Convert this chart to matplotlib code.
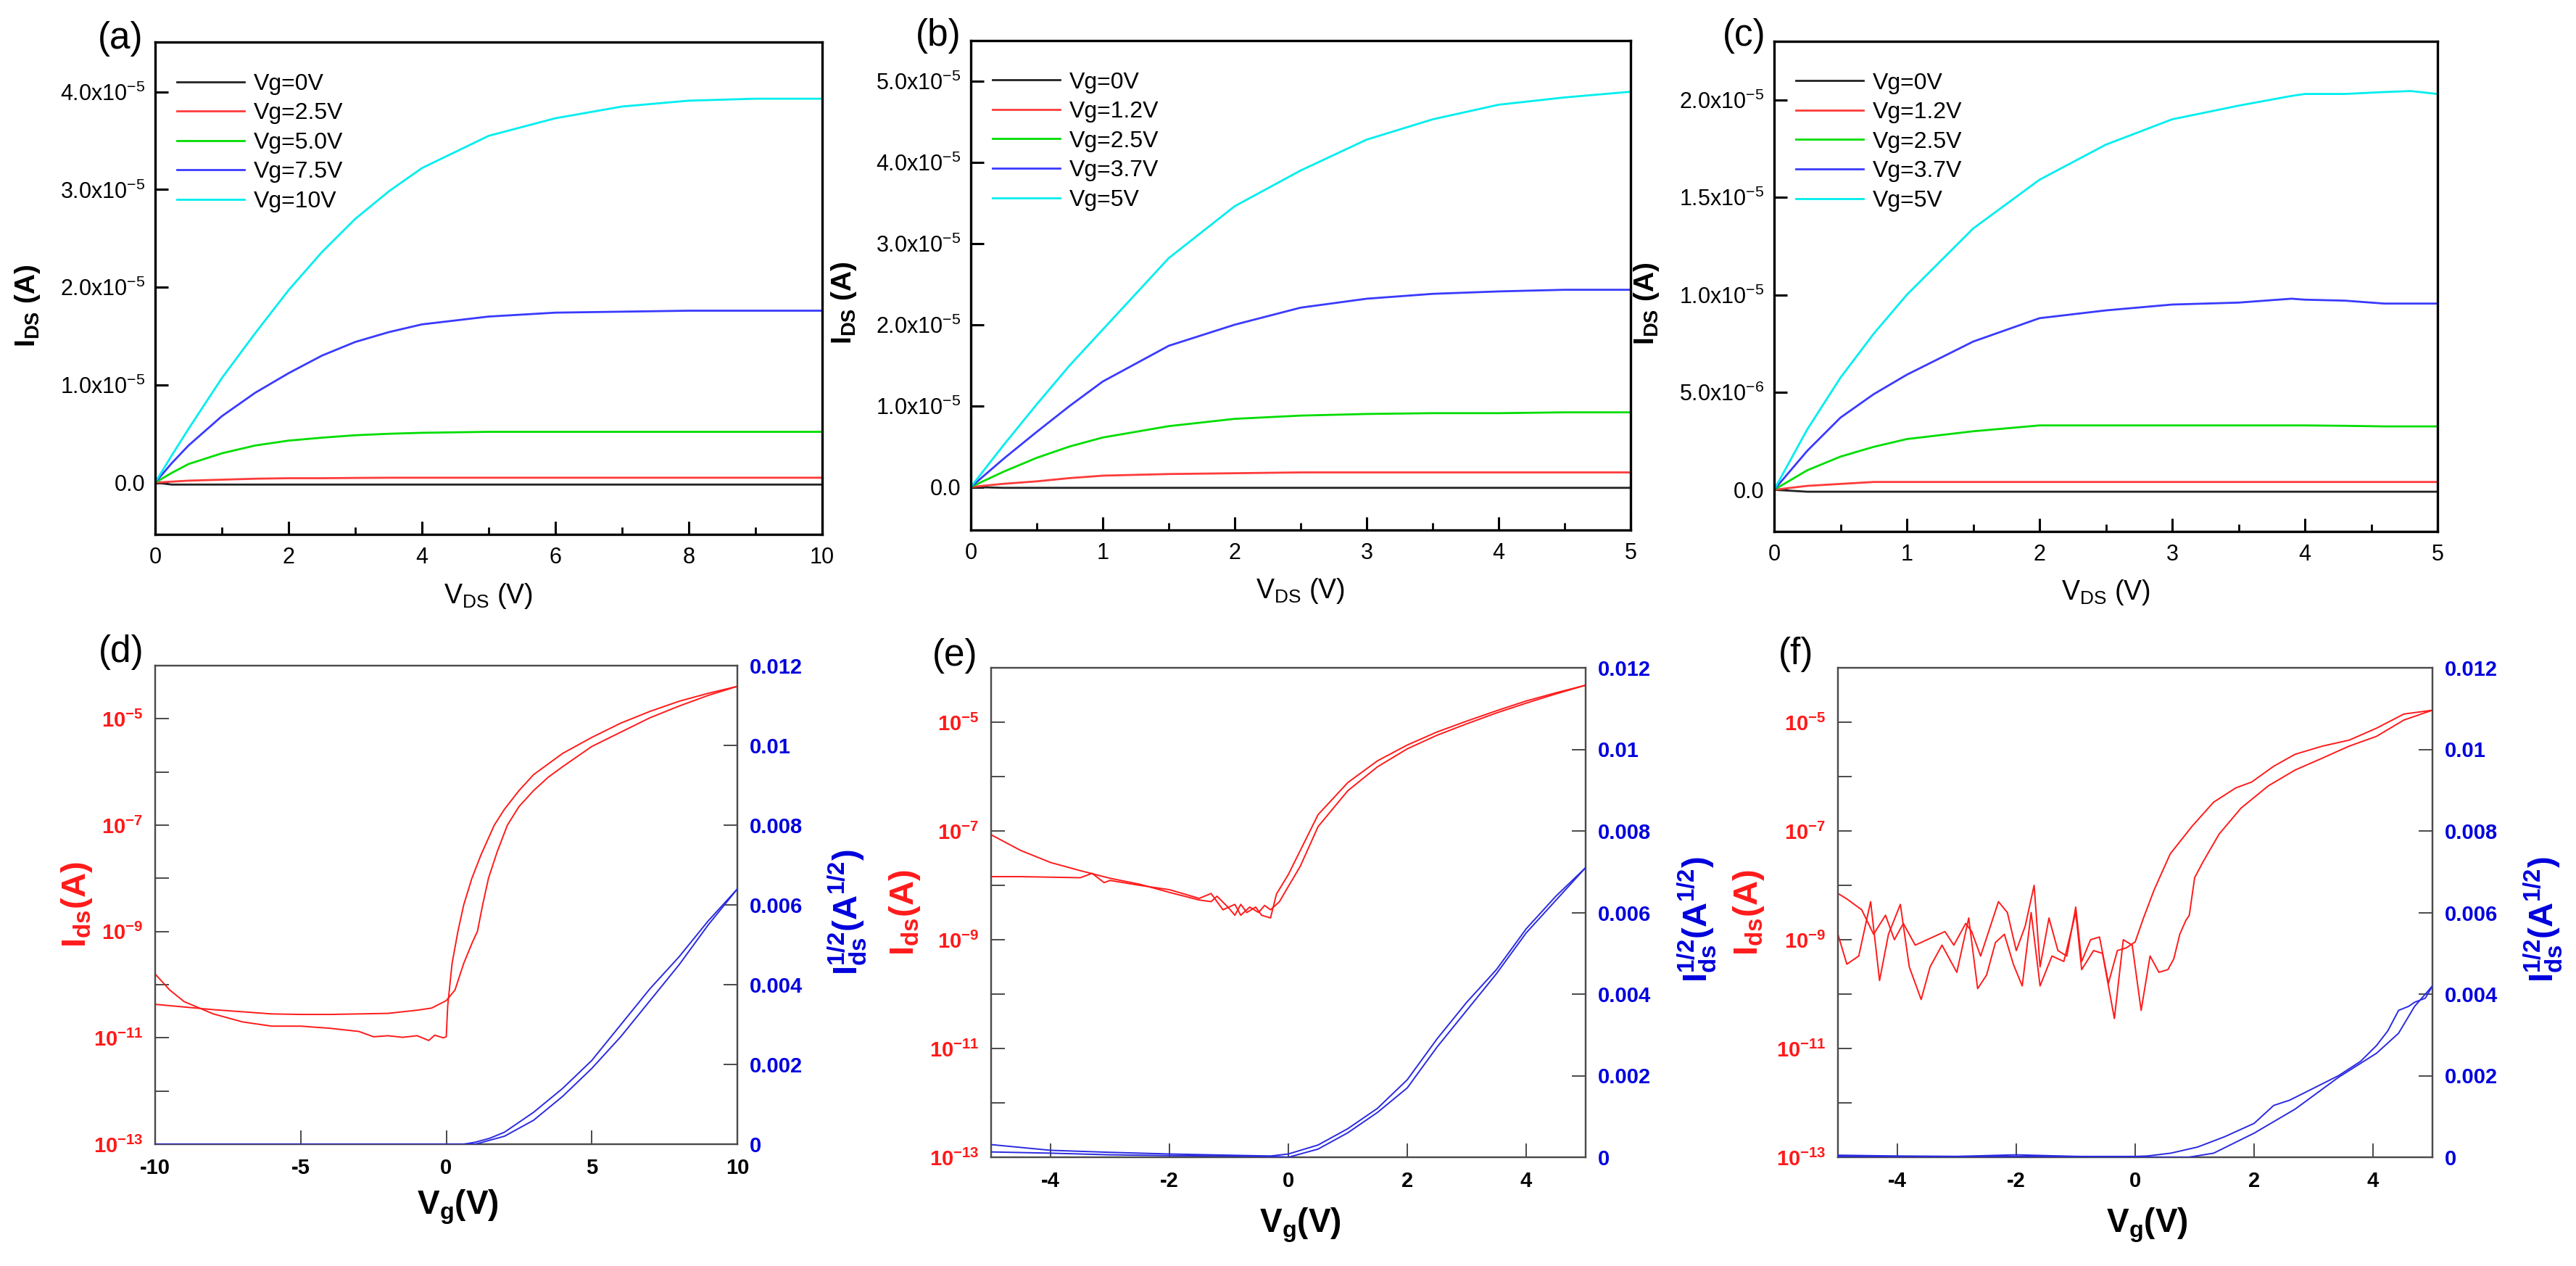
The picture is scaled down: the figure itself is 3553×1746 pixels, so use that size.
import numpy as np
import matplotlib
matplotlib.use('Agg')
import matplotlib.pyplot as plt
from matplotlib.ticker import AutoMinorLocator, NullLocator

plt.rcParams['font.family'] = ['Liberation Sans', 'DejaVu Sans']
plt.rcParams['mathtext.fontset'] = 'custom'
plt.rcParams['mathtext.rm'] = 'Liberation Sans'
plt.rcParams['mathtext.it'] = 'Liberation Sans:italic'
plt.rcParams['mathtext.bf'] = 'Liberation Sans:bold'

# ---------------- output curves, I_DS in units of 1e-5 A ----------------
vds_a = [0, 0.25, 0.5, 1, 1.5, 2, 2.5, 3, 3.5, 4, 5, 6, 7, 8, 9, 10]
ids_a = {
    'Vg=0V':   [0, -0.02, -0.02, -0.02, -0.02, -0.02, -0.02, -0.02, -0.02, -0.02, -0.02, -0.02, -0.02, -0.02, -0.02, -0.02],
    'Vg=2.5V': [0, 0.01, 0.02, 0.03, 0.04, 0.045, 0.045, 0.048, 0.05, 0.05, 0.05, 0.05, 0.05, 0.05, 0.05, 0.05],
    'Vg=5.0V': [0, 0.10, 0.19, 0.30, 0.38, 0.43, 0.46, 0.485, 0.50, 0.51, 0.52, 0.52, 0.52, 0.52, 0.52, 0.52],
    'Vg=7.5V': [0, 0.20, 0.38, 0.68, 0.92, 1.12, 1.30, 1.44, 1.54, 1.62, 1.70, 1.74, 1.75, 1.76, 1.76, 1.76],
    'Vg=10V':  [0, 0.28, 0.55, 1.07, 1.53, 1.97, 2.36, 2.70, 2.98, 3.22, 3.55, 3.73, 3.85, 3.91, 3.93, 3.93],
}

vds_b = [0, 0.25, 0.5, 0.75, 1, 1.5, 2, 2.5, 3, 3.5, 4, 4.5, 5]
ids_b = {
    'Vg=0V':   [0, -0.01, -0.01, -0.01, -0.01, -0.01, -0.01, -0.01, -0.01, -0.01, -0.01, -0.01, -0.01],
    'Vg=1.2V': [0, 0.04, 0.07, 0.11, 0.14, 0.16, 0.17, 0.18, 0.18, 0.18, 0.18, 0.18, 0.18],
    'Vg=2.5V': [0, 0.19, 0.36, 0.50, 0.61, 0.75, 0.84, 0.88, 0.90, 0.91, 0.91, 0.92, 0.92],
    'Vg=3.7V': [0, 0.35, 0.68, 1.00, 1.30, 1.74, 2.00, 2.21, 2.32, 2.38, 2.41, 2.43, 2.43],
    'Vg=5V':   [0, 0.52, 1.02, 1.50, 1.94, 2.82, 3.46, 3.90, 4.28, 4.53, 4.71, 4.80, 4.87],
}

vds_c = [0, 0.25, 0.5, 0.75, 1, 1.5, 2, 2.5, 3, 3.5, 3.9, 4, 4.3, 4.6, 4.8, 5]
ids_c = {
    'Vg=0V':   [0, -0.01, -0.01, -0.01, -0.01, -0.01, -0.01, -0.01, -0.01, -0.01, -0.01, -0.01, -0.01, -0.01, -0.01, -0.01],
    'Vg=1.2V': [0, 0.02, 0.03, 0.04, 0.04, 0.04, 0.04, 0.04, 0.04, 0.04, 0.04, 0.04, 0.04, 0.04, 0.04, 0.04],
    'Vg=2.5V': [0, 0.10, 0.17, 0.22, 0.26, 0.30, 0.33, 0.33, 0.33, 0.33, 0.33, 0.33, 0.328, 0.325, 0.325, 0.325],
    'Vg=3.7V': [0, 0.20, 0.37, 0.49, 0.59, 0.76, 0.88, 0.92, 0.95, 0.96, 0.98, 0.975, 0.97, 0.955, 0.955, 0.955],
    'Vg=5V':   [0, 0.31, 0.575, 0.80, 1.00, 1.34, 1.59, 1.77, 1.90, 1.97, 2.02, 2.03, 2.03, 2.04, 2.045, 2.03],
}

out_colors = ['#222222', '#ff3b3b', '#00dd00', '#3a3aff', '#00eeee']

yt_a = [0, 1, 2, 3, 4]
ytl_a = ['0.0', '1.0x10$^{-5}$', '2.0x10$^{-5}$', '3.0x10$^{-5}$', '4.0x10$^{-5}$']
yt_b = [0, 1, 2, 3, 4, 5]
ytl_b = ['0.0', '1.0x10$^{-5}$', '2.0x10$^{-5}$', '3.0x10$^{-5}$', '4.0x10$^{-5}$', '5.0x10$^{-5}$']
yt_c = [0, 0.5, 1.0, 1.5, 2.0]
ytl_c = ['0.0', '5.0x10$^{-6}$', '1.0x10$^{-5}$', '1.5x10$^{-5}$', '2.0x10$^{-5}$']

# ---------------- transfer curves, log10(I_ds) ----------------
vg_d1 = [-10, -9.5, -9, -8, -7, -6, -5, -4, -3, -2.5, -2, -1.5, -1, -0.6, -0.4, -0.1, 0.0,
         0.05, 0.2, 0.4, 0.6, 0.88, 1.2, 1.65, 2.0, 2.5, 3.0, 4.0, 5.0, 6.0, 7.0, 8.0, 9.0, 10.0]
logi_d1 = [-9.8, -10.1, -10.32, -10.55, -10.7, -10.78, -10.78, -10.82, -10.88, -10.98, -10.96, -10.99,
           -10.96, -11.05, -10.95, -11.0, -10.98,
           -10.4, -9.6, -9.0, -8.5, -8.0, -7.55, -7.0, -6.7, -6.35, -6.05, -5.65, -5.35, -5.08, -4.86,
           -4.67, -4.52, -4.39]
vg_d2 = [-10, -9, -8, -7, -6, -5, -4, -3, -2, -1, -0.5, 0, 0.3, 0.6, 0.9, 1.07, 1.25, 1.45, 1.75,
         2.1, 2.5, 3.0, 3.5, 4.0, 5.0, 6.0, 7.0, 8.0, 9.0, 10.0]
logi_d2 = [-10.37, -10.42, -10.47, -10.51, -10.55, -10.56, -10.56, -10.55, -10.54, -10.48, -10.44, -10.3,
           -10.1, -9.6, -9.2, -9.0, -8.5, -8.0, -7.5, -7.0, -6.65, -6.35, -6.1, -5.9, -5.52, -5.25, -4.98,
           -4.76, -4.56, -4.39]
sq_vg_d1 = [-10, 0.6, 1.0, 1.5, 2.0, 3.0, 4.0, 5.0, 6.0, 7.0, 8.0, 9.0, 10.0]
sq_d1 = [0, 0, 0.00005, 0.00015, 0.0003, 0.0008, 0.0014, 0.0021, 0.0030, 0.0039, 0.0047, 0.0056, 0.0064]
sq_vg_d2 = [-10, 1.0, 1.5, 2.0, 3.0, 4.0, 5.0, 6.0, 7.0, 8.0, 9.0, 10.0]
sq_d2 = [0, 0, 0.0001, 0.0002, 0.0006, 0.0012, 0.0019, 0.0027, 0.0036, 0.0045, 0.0055, 0.0064]

vg_e1 = [-5, -4.5, -4, -3.5, -3, -2.5, -2, -1.5, -1.3, -1.2, -1.0, -0.9, -0.8, -0.7, -0.55, -0.45,
         -0.3, -0.2, 0, 0.2, 0.5, 1.0, 1.5, 2.0, 2.5, 3.0, 3.5, 4.0, 4.5, 5.0]
logi_e1 = [-7.07, -7.36, -7.58, -7.73, -7.87, -7.98, -8.13, -8.27, -8.3, -8.2, -8.42, -8.55, -8.35, -8.5,
           -8.4, -8.55, -8.6, -8.16, -7.8, -7.36, -6.7, -6.11, -5.71, -5.42, -5.18, -4.98, -4.79, -4.61,
           -4.46, -4.32]
vg_e2 = [-5, -4.5, -4, -3.5, -3.3, -3.1, -3, -2.5, -2, -1.5, -1.3, -1.1, -0.9, -0.8, -0.65, -0.5, -0.4,
         -0.3, -0.15, 0, 0.2, 0.5, 1.0, 1.5, 2.0, 2.5, 3.0, 3.5, 4.0, 4.5, 5.0]
logi_e2 = [-7.84, -7.84, -7.85, -7.86, -7.78, -7.95, -7.91, -8.0, -8.08, -8.24, -8.15, -8.45, -8.35, -8.55,
           -8.4, -8.5, -8.37, -8.45, -8.3, -8.02, -7.65, -6.92, -6.26, -5.82, -5.49, -5.24, -5.03, -4.83,
           -4.65, -4.48, -4.32]
sq_vg_e1 = [-5, -4, -3, -2, -1, -0.3, 0, 0.5, 1, 1.5, 2, 2.5, 3, 3.5, 4, 4.5, 5]
sq_e1 = [0.00031, 0.00017, 0.00012, 0.00008, 0.00005, 0.00003, 0.00008, 0.0003, 0.0007, 0.0012, 0.0019,
         0.0029, 0.0038, 0.0046, 0.0056, 0.0064, 0.0071]
sq_vg_e2 = [-5, -4, -3, -2, -1, -0.3, 0, 0.5, 1, 1.5, 2, 2.5, 3, 3.5, 4, 4.5, 5]
sq_e2 = [0.00013, 0.0001, 0.00006, 0.00004, 0.00003, 0.00002, 0.0, 0.0002, 0.0006, 0.0011, 0.0017, 0.0027,
         0.0036, 0.0045, 0.0055, 0.0063, 0.0071]

vg_f1 = [-5.0, -4.85, -4.6, -4.4, -4.2, -4.05, -3.9, -3.7, -3.4, -3.2, -3.05, -2.85, -2.75, -2.6, -2.45,
         -2.3, -2.15, -2.0, -1.85, -1.7, -1.6, -1.45, -1.3, -1.15, -1.0, -0.9, -0.75, -0.6, -0.45, -0.3,
         -0.15, 0.0, 0.14, 0.32, 0.59, 0.96, 1.32, 1.69, 1.96, 2.33, 2.69, 3.15, 3.6, 4.06, 4.52, 5.0]
logi_f1 = [-8.15, -8.25, -8.45, -8.9, -8.55, -9.0, -8.7, -9.1, -8.95, -8.85, -9.1, -8.7, -8.85, -9.3, -8.8,
           -8.3, -8.5, -9.2, -8.75, -8.0, -9.5, -8.6, -9.2, -9.3, -8.4, -9.4, -9.0, -8.95, -9.8, -9.2,
           -9.15, -9.04, -8.6, -8.08, -7.42, -6.91, -6.47, -6.21, -6.10, -5.81, -5.59, -5.44, -5.33, -5.11,
           -4.85, -4.78]
vg_f2 = [-5.0, -4.85, -4.65, -4.45, -4.3, -4.15, -3.95, -3.8, -3.6, -3.45, -3.25, -3.0, -2.8, -2.65, -2.5,
         -2.35, -2.2, -2.05, -1.9, -1.75, -1.6, -1.4, -1.2, -1.0, -0.9, -0.7, -0.55, -0.35, -0.2, -0.05,
         0.1, 0.25, 0.4, 0.55, 0.65, 0.75, 0.85, 0.91, 1.0, 1.14, 1.41, 1.78, 2.24, 2.69, 3.15, 3.6, 4.06,
         4.52, 5.0]
logi_f2 = [-8.9, -9.45, -9.3, -8.3, -9.75, -8.9, -8.35, -9.5, -10.1, -9.5, -9.1, -9.6, -8.6, -9.9, -9.65,
           -9.05, -8.9, -9.45, -9.85, -8.5, -9.85, -9.3, -9.4, -8.5, -9.55, -9.2, -9.25, -10.45, -9.0, -9.1,
           -10.3, -9.3, -9.6, -9.55, -9.35, -8.9, -8.65, -8.55, -7.86, -7.57, -7.06, -6.58, -6.17, -5.88,
           -5.66, -5.44, -5.26, -4.96, -4.78]
sq_vg_f1 = [-5, -4, -3, -2, -1, 0, 0.2, 0.6, 1.05, 1.5, 2.0, 2.33, 2.6, 2.97, 3.42, 3.79, 4.06, 4.25, 4.43,
            4.6, 4.7, 4.88, 5.0]
sq_f1 = [0.00005, 0.00003, 0.00002, 0.00006, 0.00002, 0.00002, 0.00003, 0.0001, 0.00025, 0.0005, 0.00083,
         0.00127, 0.0014, 0.00167, 0.002, 0.00235, 0.00274, 0.0031, 0.0036, 0.0037, 0.0038, 0.0039, 0.0042]
sq_vg_f2 = [-5, -3, -1, 0.5, 0.9, 1.32, 2.0, 2.69, 3.42, 4.06, 4.43, 4.7, 5.0]
sq_f2 = [0.00002, 0.00002, 0.00002, 0.0, 0.0, 0.0001, 0.00059, 0.00118, 0.00196, 0.00255, 0.00304, 0.0037,
         0.0042]

sq_tick_text = ['0', '0.002', '0.004', '0.006', '0.008', '0.01', '0.012']

RED = '#ff1a1a'
BLUE = '#0000dd'
LINE_BLUE = '#2a2ae0'
GRAY = '#4a4a4a'

fig = plt.figure(figsize=(35.53, 17.46), dpi=100)


def output_panel(rect, vds, curves, xlim, xticks, ylim, yticks, yticklabels, letter, letter_xy):
    ax = fig.add_axes(rect)
    for (lab, vals), c in zip(curves.items(), out_colors):
        ax.plot(vds, np.array(vals) * 1e-5, color=c, lw=2.0, label=lab)
    ax.set_xlim(xlim)
    ax.set_ylim(ylim[0] * 1e-5, ylim[1] * 1e-5)
    ax.set_xticks(xticks)
    ax.set_xticklabels([str(t) for t in xticks])
    ax.set_yticks(np.array(yticks) * 1e-5)
    ax.set_yticklabels(yticklabels)
    ax.xaxis.set_minor_locator(AutoMinorLocator(2))
    ax.tick_params(which='major', direction='in', length=13, width=2.2, labelsize=22, top=False, right=False)
    ax.tick_params(axis='x', which='major', pad=12)
    ax.tick_params(axis='y', which='major', pad=10)
    ax.tick_params(which='minor', direction='in', length=7, width=2.0, top=False, right=False)
    for s in ax.spines.values():
        s.set_linewidth(2.4)
    ax.set_ylabel(r'$\mathbf{I_{DS}\ (A)}$', fontsize=28)
    ax.yaxis.set_label_coords(-0.17, 0.465)
    ax.set_xlabel(r'V$_{\mathregular{DS}}$ (V)', fontsize=27)
    ax.xaxis.set_label_coords(0.5, -0.095)
    ax.legend(loc='upper left', bbox_to_anchor=(0.033, 0.937), frameon=False, fontsize=23,
              handlelength=2.9, handletextpad=0.4, labelspacing=0.33, borderpad=0, borderaxespad=0)
    fig.text(letter_xy[0], letter_xy[1], letter, fontsize=37, ha='center', va='center')
    return ax


def transfer_panel(rect, curves, sq_curves, xlim, xticks, label_x, letter, letter_xy):
    ax = fig.add_axes(rect)
    for vg, logi in curves:
        ax.plot(vg, 10.0 ** np.array(logi), color=RED, lw=1.4, zorder=3)
    ax.set_yscale('log')
    ax.set_ylim(1e-13, 1e-4)
    ax.set_xlim(xlim)
    decades = list(range(-13, -4))
    ax.set_yticks([10.0 ** k for k in decades])
    ax.set_yticklabels([r'$\mathbf{10^{%d}}$' % k if k % 2 else '' for k in decades])
    ax.yaxis.set_minor_locator(NullLocator())
    ax.set_xticks(xticks)
    ax.set_xticklabels([str(t) for t in xticks], fontweight='bold')
    ax.tick_params(axis='y', direction='in', length=14, width=1.4, color=GRAY, labelcolor=RED,
                   labelsize=21, pad=12)
    ax.tick_params(axis='x', direction='in', length=14, width=1.4, color=GRAY, labelcolor='black',
                   labelsize=21, pad=14, top=False)
    for s in ax.spines.values():
        s.set_linewidth(1.6)
        s.set_color(GRAY)
    ax.set_ylabel(r'$\mathbf{I_{ds}(A)}$', fontsize=34, color=RED)
    ax.yaxis.set_label_coords(label_x[0], 0.5)
    ax.set_xlabel(r'$\mathbf{V_g(V)}$', fontsize=33)
    ax.xaxis.set_label_coords(0.52, label_x[2])

    ax2 = ax.twinx()
    for vg, sq in sq_curves:
        ax2.plot(vg, sq, color=LINE_BLUE, lw=1.4, zorder=3)
    ax2.set_ylim(0, 0.012)
    ax2.set_yticks([0, 0.002, 0.004, 0.006, 0.008, 0.01, 0.012])
    ax2.set_yticklabels(sq_tick_text, fontweight='bold')
    ax2.tick_params(axis='y', direction='in', length=14, width=1.4, color=GRAY, labelcolor=BLUE,
                    labelsize=21, pad=12)
    for s in ax2.spines.values():
        s.set_linewidth(1.6)
        s.set_color(GRAY)
    ax2.set_ylabel(r'$\mathbf{I_{ds}^{1/2}(A^{1/2})}$', fontsize=34, color=BLUE)
    ax2.yaxis.set_label_coords(label_x[1], 0.485)
    fig.text(letter_xy[0], letter_xy[1], letter, fontsize=37, ha='center', va='center')
    return ax, ax2


W, H = 3553.0, 1746.0

output_panel([214 / W, 1 - 737 / H, 920 / W, 679 / H], vds_a, ids_a, (0, 10), [0, 2, 4, 6, 8, 10],
             (-0.53, 4.51), yt_a, ytl_a, '(a)', (166 / W, 1 - 53 / H))
output_panel([1339 / W, 1 - 731 / H, 910 / W, 675 / H], vds_b, ids_b, (0, 5), [0, 1, 2, 3, 4, 5],
             (-0.53, 5.5), yt_b, ytl_b, '(b)', (1294 / W, 1 - 50 / H))
output_panel([2447 / W, 1 - 733 / H, 915 / W, 676 / H], vds_c, ids_c, (0, 5), [0, 1, 2, 3, 4, 5],
             (-0.214, 2.30), yt_c, ytl_c, '(c)', (2406 / W, 1 - 49 / H))

transfer_panel([214 / W, 1 - 1578 / H, 803 / W, 660 / H],
               [(vg_d1, logi_d1), (vg_d2, logi_d2)], [(sq_vg_d1, sq_d1), (sq_vg_d2, sq_d2)],
               (-10, 10), [-10, -5, 0, 5, 10], (-0.105, 1.153, -0.092), '(d)', (167 / W, 1 - 900 / H))
transfer_panel([1367 / W, 1 - 1596 / H, 820 / W, 675 / H],
               [(vg_e1, logi_e1), (vg_e2, logi_e2)], [(sq_vg_e1, sq_e1), (sq_vg_e2, sq_e2)],
               (-5, 5), [-4, -2, 0, 2, 4], (-0.116, 1.152, -0.10), '(e)', (1317 / W, 1 - 904 / H))
transfer_panel([2535 / W, 1 - 1596 / H, 820 / W, 675 / H],
               [(vg_f1, logi_f1), (vg_f2, logi_f2)], [(sq_vg_f1, sq_f1), (sq_vg_f2, sq_f2)],
               (-5, 5), [-4, -2, 0, 2, 4], (-0.121, 1.151, -0.10), '(f)', (2477 / W, 1 - 902 / H))

fig.savefig('out.png', dpi=100, facecolor='white')
